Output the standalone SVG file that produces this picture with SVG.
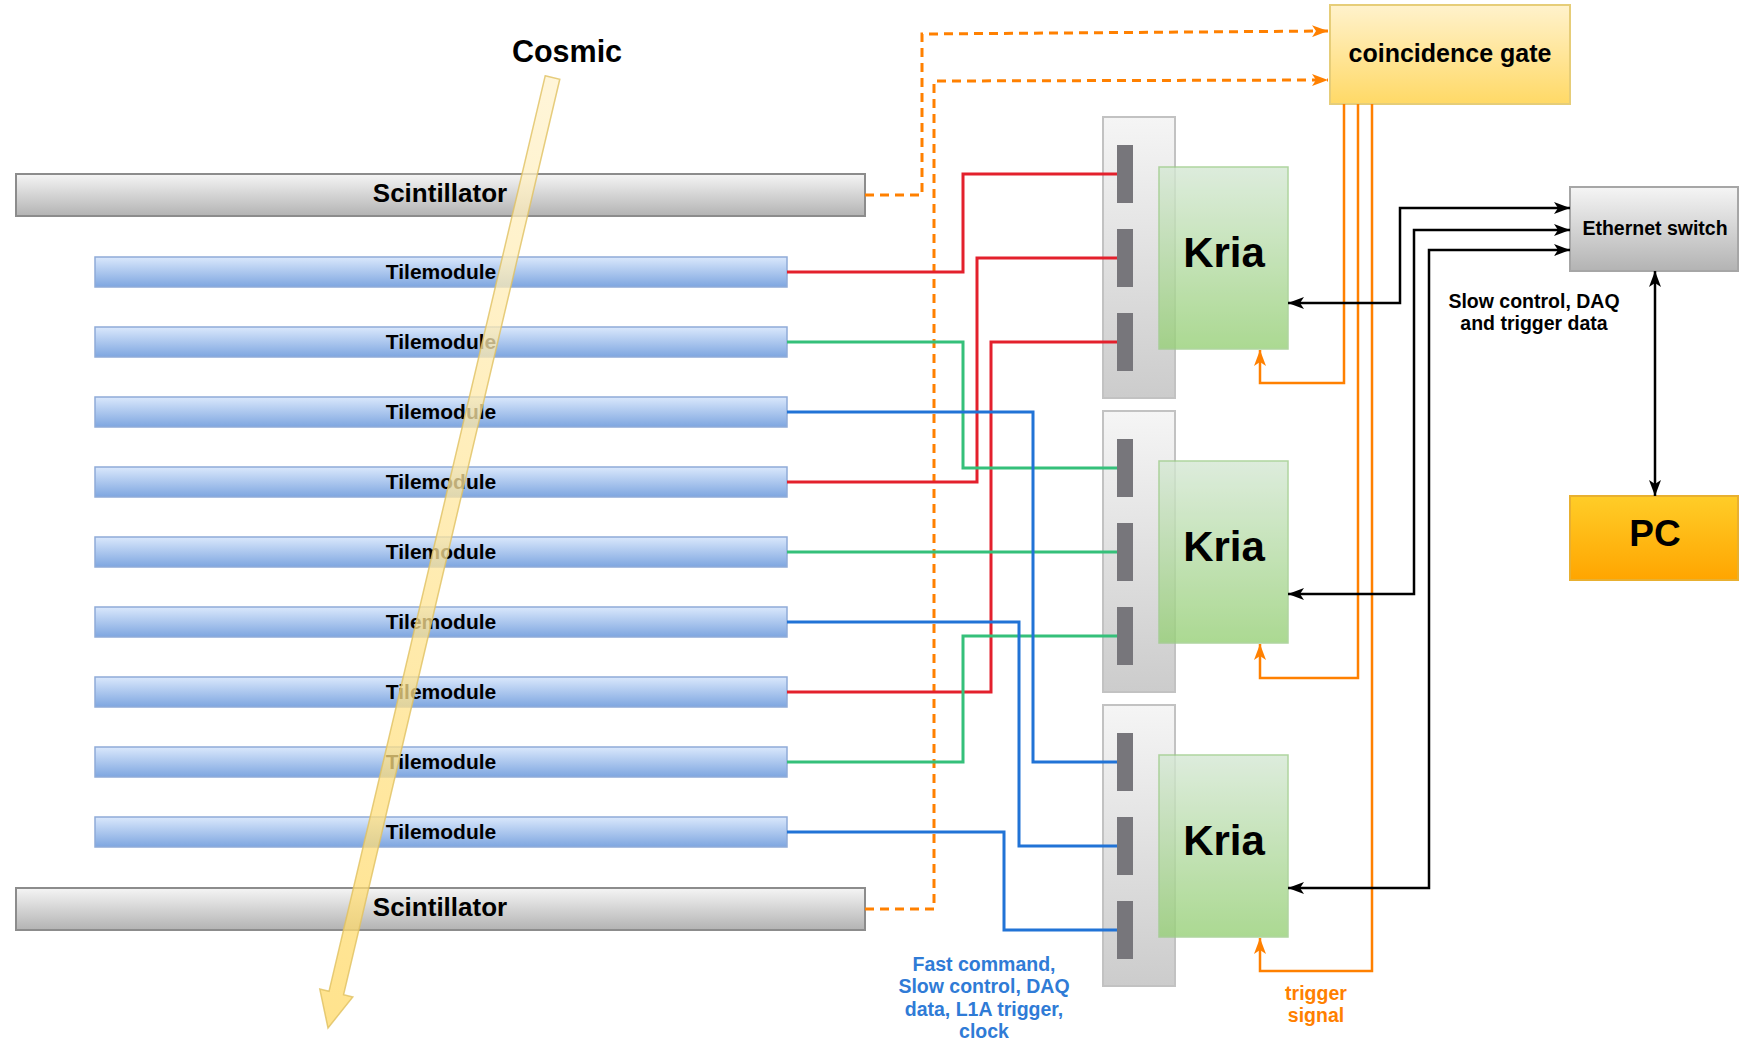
<svg xmlns="http://www.w3.org/2000/svg" width="1739" height="1040" viewBox="0 0 1739 1040">
  <defs>
    <linearGradient id="gGrey" x1="0" y1="0" x2="0" y2="1">
      <stop offset="0" stop-color="#f5f5f5"/>
      <stop offset="1" stop-color="#b3b3b3"/>
    </linearGradient>
    <linearGradient id="gBoard" x1="0" y1="0" x2="0" y2="1">
      <stop offset="0" stop-color="#f5f5f5"/>
      <stop offset="1" stop-color="#cccccc"/>
    </linearGradient>
    <linearGradient id="gBlue" x1="0" y1="0" x2="0" y2="1">
      <stop offset="0" stop-color="#dae8fc"/>
      <stop offset="1" stop-color="#7ea6e0"/>
    </linearGradient>
    <linearGradient id="gGreen" x1="0" y1="0" x2="0" y2="1">
      <stop offset="0" stop-color="#d5e8d4"/>
      <stop offset="1" stop-color="#97d077"/>
    </linearGradient>
    <linearGradient id="gGate" x1="0" y1="0" x2="0" y2="1">
      <stop offset="0" stop-color="#fff2cc"/>
      <stop offset="1" stop-color="#ffd966"/>
    </linearGradient>
    <linearGradient id="gPC" x1="0" y1="0" x2="0" y2="1">
      <stop offset="0" stop-color="#ffcd28"/>
      <stop offset="1" stop-color="#ffa500"/>
    </linearGradient>
    <linearGradient id="gCosmic" gradientUnits="userSpaceOnUse" x1="552" y1="78" x2="328" y2="1028">
      <stop offset="0" stop-color="#fff2cc"/>
      <stop offset="1" stop-color="#ffd966"/>
    </linearGradient>
    <marker id="arrBlack" viewBox="0 0 16 12" refX="16" refY="6" markerWidth="16" markerHeight="12" markerUnits="userSpaceOnUse" orient="auto-start-reverse">
      <path d="M0,0 L16,6 L0,12 L4,6 Z" fill="#000000"/>
    </marker>
    <marker id="arrOrange" viewBox="0 0 16 12" refX="16" refY="6" markerWidth="16" markerHeight="12" markerUnits="userSpaceOnUse" orient="auto">
      <path d="M0,0 L16,6 L0,12 L4,6 Z" fill="#ff8000"/>
    </marker>
  </defs>
  <style>
    text { font-family: "Liberation Sans", Arial, Helvetica, sans-serif; font-weight: bold; text-anchor: middle; fill: #000000; }
    .scint { fill: url(#gGrey); stroke: #8c8c8c; stroke-width: 2; }
    .tile { fill: url(#gBlue); stroke: #8fabd8; stroke-width: 1.5; }
    .board { fill: url(#gBoard); stroke: #c2c2c2; stroke-width: 2; }
    .conn { fill: #77767b; }
    .kria { fill: url(#gGreen); stroke: #9ccb88; stroke-width: 1.5; opacity: 0.8; }
    .tileLabel { font-size: 21px; }
    .scintLabel { font-size: 26px; }
    .kriaLabel { font-size: 42px; }
    .small { font-size: 19.5px; }
    .wire { fill: none; stroke-width: 3; stroke-linejoin: miter; }
    .red { stroke: #e3202c; }
    .green { stroke: #35c07a; }
    .blue { stroke: #2173d6; }
    .trig { fill: none; stroke: #ff8000; stroke-width: 2.5; }
    .dash { fill: none; stroke: #ff8000; stroke-width: 3; stroke-dasharray: 9 6; }
    .eth { fill: none; stroke: #000000; stroke-width: 2.5; }
    .blueText { fill: #2f7bd6; }
    .orangeText { fill: #ff8000; }
  </style>

  <rect width="1739" height="1040" fill="#ffffff"/>

  <!-- detector stack -->
  <g id="scintillator-top">
    <rect class="scint" x="16" y="174" width="849" height="42"/>
    <text class="scintLabel" x="440" y="202">Scintillator</text>
  </g>
  <g id="tilemodule-1"><rect class="tile" x="95" y="257" width="692" height="30"/><text class="tileLabel" x="441" y="279">Tilemodule</text></g>
  <g id="tilemodule-2"><rect class="tile" x="95" y="327" width="692" height="30"/><text class="tileLabel" x="441" y="349">Tilemodule</text></g>
  <g id="tilemodule-3"><rect class="tile" x="95" y="397" width="692" height="30"/><text class="tileLabel" x="441" y="419">Tilemodule</text></g>
  <g id="tilemodule-4"><rect class="tile" x="95" y="467" width="692" height="30"/><text class="tileLabel" x="441" y="489">Tilemodule</text></g>
  <g id="tilemodule-5"><rect class="tile" x="95" y="537" width="692" height="30"/><text class="tileLabel" x="441" y="559">Tilemodule</text></g>
  <g id="tilemodule-6"><rect class="tile" x="95" y="607" width="692" height="30"/><text class="tileLabel" x="441" y="629">Tilemodule</text></g>
  <g id="tilemodule-7"><rect class="tile" x="95" y="677" width="692" height="30"/><text class="tileLabel" x="441" y="699">Tilemodule</text></g>
  <g id="tilemodule-8"><rect class="tile" x="95" y="747" width="692" height="30"/><text class="tileLabel" x="441" y="769">Tilemodule</text></g>
  <g id="tilemodule-9"><rect class="tile" x="95" y="817" width="692" height="30"/><text class="tileLabel" x="441" y="839">Tilemodule</text></g>
  <g id="scintillator-bottom">
    <rect class="scint" x="16" y="888" width="849" height="42"/>
    <text class="scintLabel" x="440" y="916">Scintillator</text>
  </g>

  <!-- readout boards with three connectors each -->
  <g id="board-1">
    <rect class="board" x="1103" y="117" width="72" height="281"/>
    <rect class="conn" x="1117" y="145" width="16" height="58"/>
    <rect class="conn" x="1117" y="229" width="16" height="58"/>
    <rect class="conn" x="1117" y="313" width="16" height="58"/>
  </g>
  <g id="board-2">
    <rect class="board" x="1103" y="411" width="72" height="281"/>
    <rect class="conn" x="1117" y="439" width="16" height="58"/>
    <rect class="conn" x="1117" y="523" width="16" height="58"/>
    <rect class="conn" x="1117" y="607" width="16" height="58"/>
  </g>
  <g id="board-3">
    <rect class="board" x="1103" y="705" width="72" height="281"/>
    <rect class="conn" x="1117" y="733" width="16" height="58"/>
    <rect class="conn" x="1117" y="817" width="16" height="58"/>
    <rect class="conn" x="1117" y="901" width="16" height="58"/>
  </g>
  <g id="kria-1"><rect class="kria" x="1159" y="167" width="129" height="182"/><text class="kriaLabel" x="1224" y="267">Kria</text></g>
  <g id="kria-2"><rect class="kria" x="1159" y="461" width="129" height="182"/><text class="kriaLabel" x="1224" y="561">Kria</text></g>
  <g id="kria-3"><rect class="kria" x="1159" y="755" width="129" height="182"/><text class="kriaLabel" x="1224" y="855">Kria</text></g>

  <g id="coincidence-gate">
    <rect x="1330" y="5" width="240" height="99" fill="url(#gGate)" stroke="#e6cd78" stroke-width="2"/>
    <text x="1450" y="62" style="font-size:25px">coincidence gate</text>
  </g>
  <g id="ethernet-switch">
    <rect x="1570" y="187" width="168" height="84" fill="url(#gGrey)" stroke="#a6a6a6" stroke-width="2"/>
    <text class="small" x="1655" y="235">Ethernet switch</text>
  </g>
  <g id="pc">
    <rect x="1570" y="496" width="168" height="84" fill="url(#gPC)" stroke="#e8b030" stroke-width="2"/>
    <text x="1655" y="546" style="font-size:37px">PC</text>
  </g>

  <!-- connectors -->
  <g id="connectors">
    <!-- scintillator trigger lines to the coincidence gate -->
    <path class="dash" d="M865,195 H922 V34 L1328,31" marker-end="url(#arrOrange)"/>
    <path class="dash" d="M865,909 H934 V81 L1328,80" marker-end="url(#arrOrange)"/>

    <!-- tile module readout cables -->
    <path class="wire red" d="M787,272 H963 V174 H1117"/>
    <path class="wire red" d="M787,482 H977 V258 H1117"/>
    <path class="wire red" d="M787,692 H991 V342 H1117"/>
    <path class="wire green" d="M787,342 H963 V468 H1117"/>
    <path class="wire green" d="M787,552 H1117"/>
    <path class="wire green" d="M787,762 H963 V636 H1117"/>
    <path class="wire blue" d="M787,412 H1033 V762 H1117"/>
    <path class="wire blue" d="M787,622 H1019 V846 H1117"/>
    <path class="wire blue" d="M787,832 H1004 V930 H1117"/>

    <!-- trigger signal from the coincidence gate -->
    <path class="trig" d="M1344,104 V383 H1260 V350" marker-end="url(#arrOrange)"/>
    <path class="trig" d="M1358,104 V678 H1260 V644" marker-end="url(#arrOrange)"/>
    <path class="trig" d="M1372,104 V971 H1260 V938" marker-end="url(#arrOrange)"/>

    <!-- data links to the ethernet switch and PC -->
    <path class="eth" d="M1288,303 H1400 V208 H1570" marker-start="url(#arrBlack)" marker-end="url(#arrBlack)"/>
    <path class="eth" d="M1288,594 H1414 V230 H1570" marker-start="url(#arrBlack)" marker-end="url(#arrBlack)"/>
    <path class="eth" d="M1288,888 H1429 V250 H1570" marker-start="url(#arrBlack)" marker-end="url(#arrBlack)"/>
    <path class="eth" d="M1655,271 V496" marker-start="url(#arrBlack)" marker-end="url(#arrBlack)"/>
  </g>

  <!-- labels -->
  <g id="label-ethernet-data">
    <text class="small" x="1534" y="308">Slow control, DAQ</text>
    <text class="small" x="1534" y="330">and trigger data</text>
  </g>
  <g id="label-fast-command">
    <text class="small blueText" x="984" y="971">Fast command,</text>
    <text class="small blueText" x="984" y="993">Slow control, DAQ</text>
    <text class="small blueText" x="984" y="1016">data, L1A trigger,</text>
    <text class="small blueText" x="984" y="1038">clock</text>
  </g>
  <g id="label-trigger">
    <text class="small orangeText" x="1316" y="1000">trigger</text>
    <text class="small orangeText" x="1316" y="1022">signal</text>
  </g>

  <!-- cosmic ray track -->
  <g id="cosmic">
    <text x="567" y="62" style="font-size:30.5px">Cosmic</text>
    <polygon points="545.2,75.8 559.8,79.2 343.6,994.7 352.8,996.9 328,1028 319.8,989.1 329.0,991.3" fill="url(#gCosmic)" fill-opacity="0.75" stroke="#e0c060" stroke-opacity="0.8" stroke-width="1.5" stroke-linejoin="miter"/>
  </g>
</svg>
